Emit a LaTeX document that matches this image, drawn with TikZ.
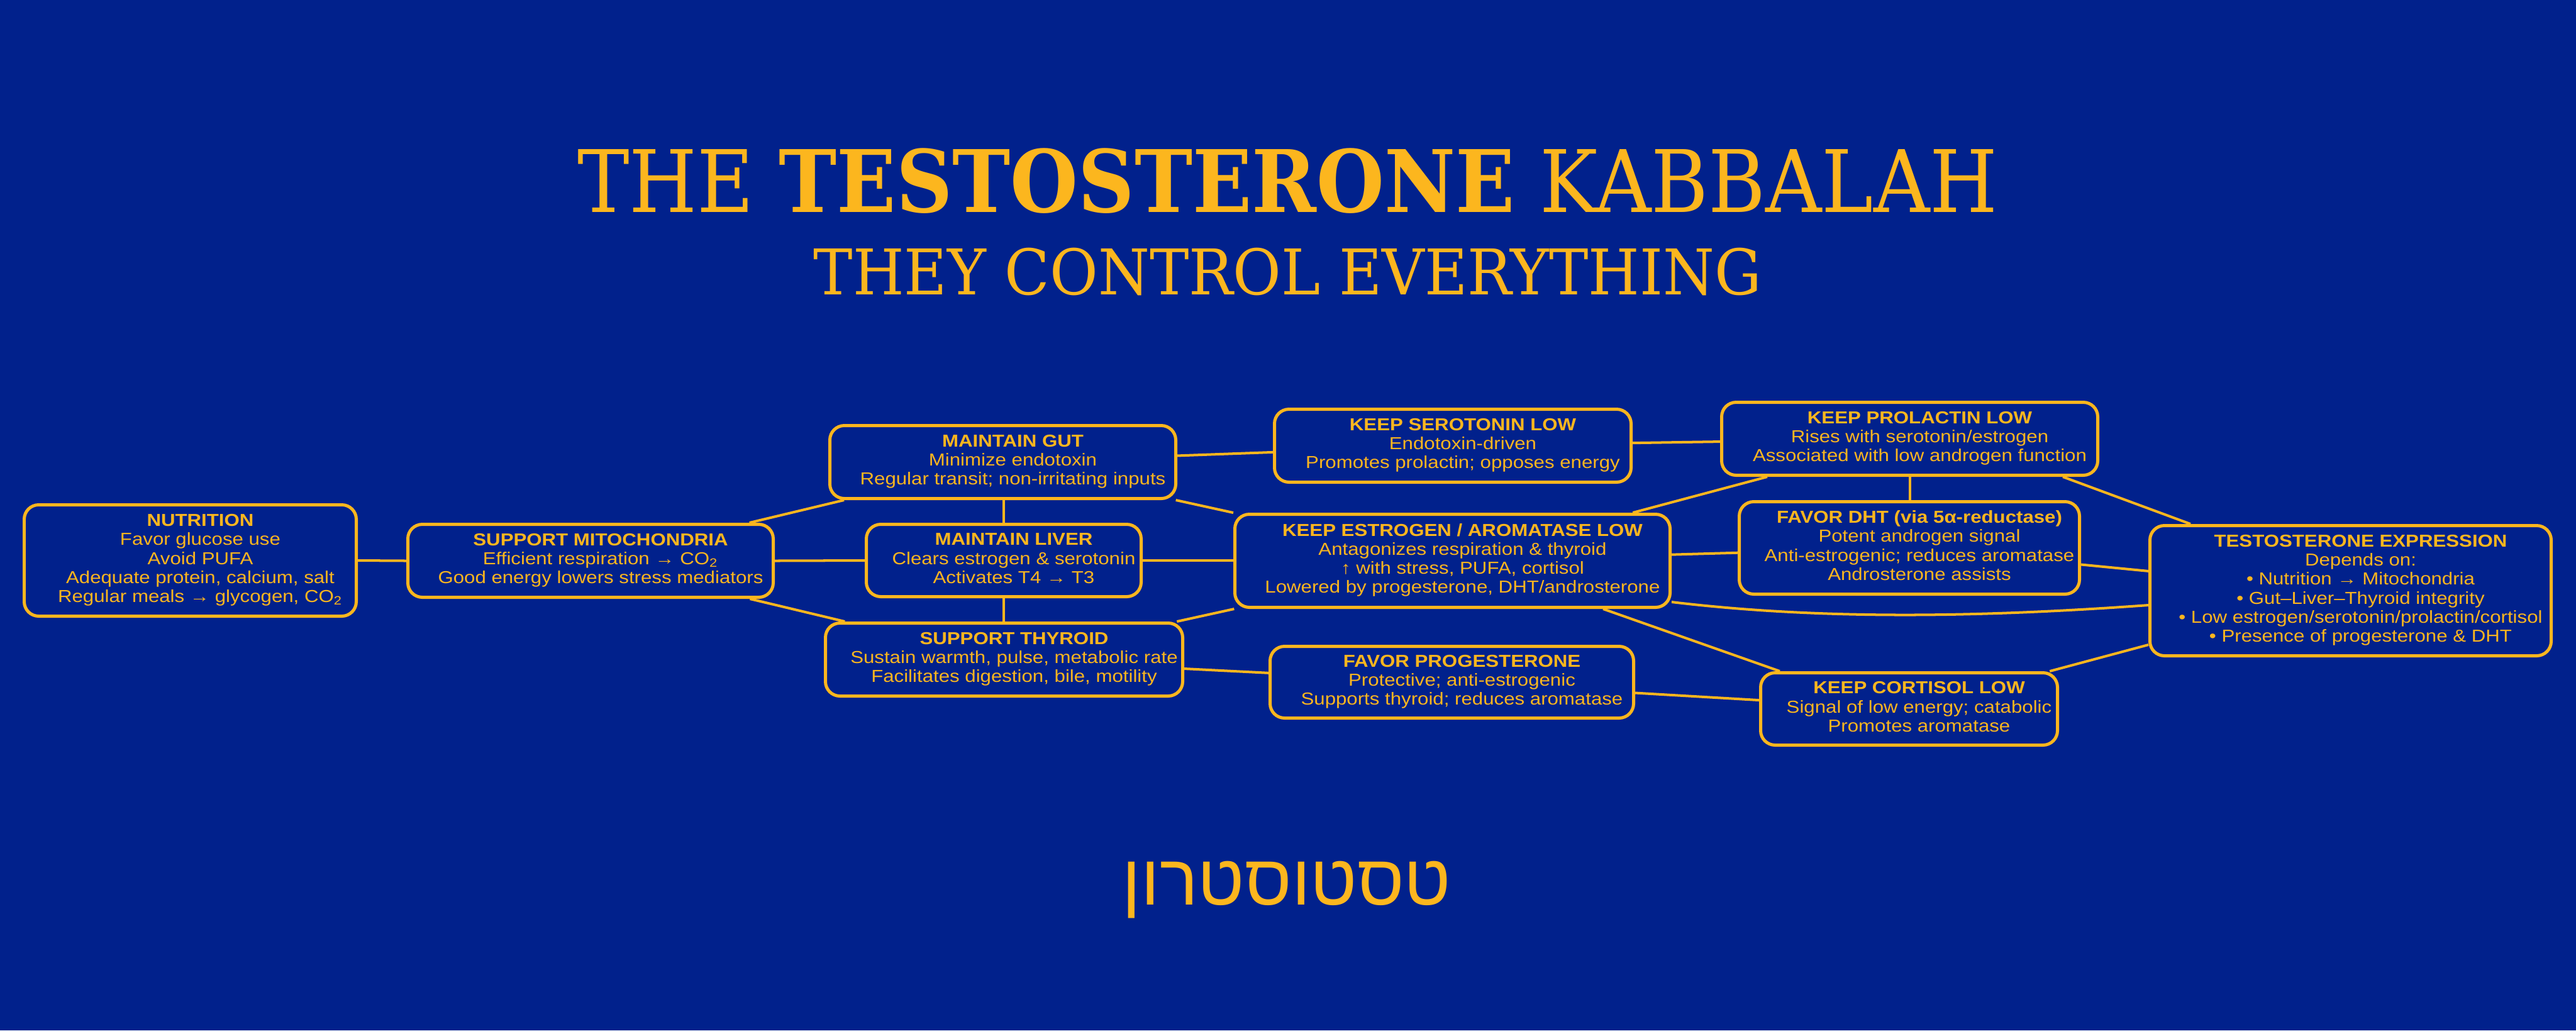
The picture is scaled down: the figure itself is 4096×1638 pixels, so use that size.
\documentclass[tikz,border=0pt]{standalone}
\usepackage{fontspec}
\setmainfont[FakeStretch=1.135]{Liberation Sans}
\newfontfamily\titlefont[FakeStretch=0.903]{DejaVu Serif}
\newfontfamily\subtitlefont[FakeStretch=0.934]{DejaVu Serif}
\newfontfamily\hebfont[Script=Hebrew]{Liberation Sans}
\TeXXeTstate=1
\definecolor{bg}{RGB}{1,33,140}
\definecolor{gold}{RGB}{252,182,30}
\newdimen\pxu \pxu=0.01cm
\newcommand\subtwo{\textsubscript{2}}
\newcommand\boxlines[1]{\hspace*{32\pxu}\begin{tabular}{@{}c@{}}#1\end{tabular}}
\tikzset{
  hbox/.style={draw=gold, fill=bg, line width=1.42pt, rounded corners=0.23cm,
    inner sep=0pt, text=gold, font=\fontsize{7.82pt}{8.6pt}\selectfont},
  link/.style={draw=gold, line width=1.14pt},
  ttl/.style={anchor=base, text=gold, inner sep=0pt}
}
\begin{document}
\begin{tikzpicture}[x=0.01cm, y=-0.01cm]
\useasboundingbox (0,0) rectangle (4096,1638);
\fill[bg] (0,0) rectangle (4096,1638);

\node[ttl, font=\titlefont\fontsize{39pt}{45pt}\selectfont] (title) at (2047.5,337) {THE \textbf{TESTOSTERONE} KABBALAH};
\node[ttl, font=\subtitlefont\fontsize{28.5pt}{33pt}\selectfont] (subtitle) at (2047.5,468) {THEY CONTROL EVERYTHING};
\node[ttl, font=\hebfont\fontsize{32.4pt}{38pt}\selectfont] (heb) at (2046,1438) {\beginR טסטוסטרון\endR};

\node[hbox, minimum width=528\pxu, minimum height=177\pxu] (nut) at (302.5,891)
  {\boxlines{\textbf{NUTRITION}\\Favor glucose use\\Avoid PUFA\\Adequate protein, calcium, salt\\Regular meals → glycogen, CO\subtwo}};
\node[hbox, minimum width=581\pxu, minimum height=116\pxu] (mito) at (939,891.5)
  {\boxlines{\textbf{SUPPORT MITOCHONDRIA}\\Efficient respiration → CO\subtwo\\Good energy lowers stress mediators}};
\node[hbox, minimum width=550\pxu, minimum height=116\pxu] (gut) at (1594.5,734.5)
  {\boxlines{\textbf{MAINTAIN GUT}\\Minimize endotoxin\\Regular transit; non-irritating inputs}};
\node[hbox, minimum width=437\pxu, minimum height=115\pxu] (liver) at (1596,891)
  {\boxlines{\textbf{MAINTAIN LIVER}\\Clears estrogen \& serotonin\\Activates T4 → T3}};
\node[hbox, minimum width=568\pxu, minimum height=116\pxu] (thy) at (1596.5,1048.5)
  {\boxlines{\textbf{SUPPORT THYROID}\\Sustain warmth, pulse, metabolic rate\\Facilitates digestion, bile, motility}};
\node[hbox, minimum width=567\pxu, minimum height=116\pxu] (ser) at (2310,708.5)
  {\boxlines{\textbf{KEEP SEROTONIN LOW}\\Endotoxin-driven\\Promotes prolactin; opposes energy}};
\node[hbox, minimum width=692\pxu, minimum height=148\pxu] (est) at (2309.5,891.5)
  {\boxlines{\textbf{KEEP ESTROGEN / AROMATASE LOW}\\Antagonizes respiration \& thyroid\\↑ with stress, PUFA, cortisol\\Lowered by progesterone, DHT/androsterone}};
\node[hbox, minimum width=578\pxu, minimum height=114\pxu] (prog) at (2308.5,1084.5)
  {\boxlines{\textbf{FAVOR PROGESTERONE}\\Protective; anti-estrogenic\\Supports thyroid; reduces aromatase}};
\node[hbox, minimum width=598\pxu, minimum height=116\pxu] (prl) at (3036.5,697.5)
  {\boxlines{\textbf{KEEP PROLACTIN LOW}\\Rises with serotonin/estrogen\\Associated with low androgen function}};
\node[hbox, minimum width=541\pxu, minimum height=147\pxu] (dht) at (3036,871)
  {\boxlines{\textbf{FAVOR DHT (via 5α-reductase)}\\Potent androgen signal\\Anti-estrogenic; reduces aromatase\\Androsterone assists}};
\node[hbox, minimum width=638\pxu, minimum height=207\pxu] (tex) at (3737.5,939)
  {\boxlines{\textbf{TESTOSTERONE EXPRESSION}\\Depends on:\\• Nutrition → Mitochondria\\• Gut–Liver–Thyroid integrity\\• Low estrogen/serotonin/prolactin/cortisol\\• Presence of progesterone \& DHT}};
\node[hbox, minimum width=472\pxu, minimum height=115\pxu] (cort) at (3035.5,1127)
  {\boxlines{\textbf{KEEP CORTISOL LOW}\\Signal of low energy; catabolic\\Promotes aromatase}};

\draw[link] (nut.east) -- (mito.west);
\draw[link] (mito) -- (gut);
\draw[link] (mito.east) -- (liver.west);
\draw[link] (mito) -- (thy);
\draw[link] (liver.north |- gut.south) -- (liver.north);
\draw[link] (liver.south) -- (liver.south |- thy.north);
\draw[link] (gut) -- (ser);
\draw[link] (gut) -- (est);
\draw[link] (liver.east) -- (liver.east -| est.west);
\draw[link] (thy) -- (est);
\draw[link] (thy) -- (prog);
\draw[link] (ser) -- (prl);
\draw[link] (est) -- (prl);
\draw[link] (est) -- (dht);
\draw[link] ([shift={(0,65.5)}]est.east) .. controls +(250,30) and +(-250,18) .. ([shift={(0,23)}]tex.west);
\draw[link] ([shift={(588,0)}]est.south west) -- ([shift={(33,0)}]cort.north west);
\draw[link] (prog) -- (cort);
\draw[link] (prl.south) -- (prl.south |- dht.north);
\draw[link] ([shift={(-58,0)}]prl.south east) -- ([shift={(67,0)}]tex.north west);
\draw[link] (dht) -- (tex);
\draw[link] (cort) -- (tex);
\end{tikzpicture}
\end{document}
